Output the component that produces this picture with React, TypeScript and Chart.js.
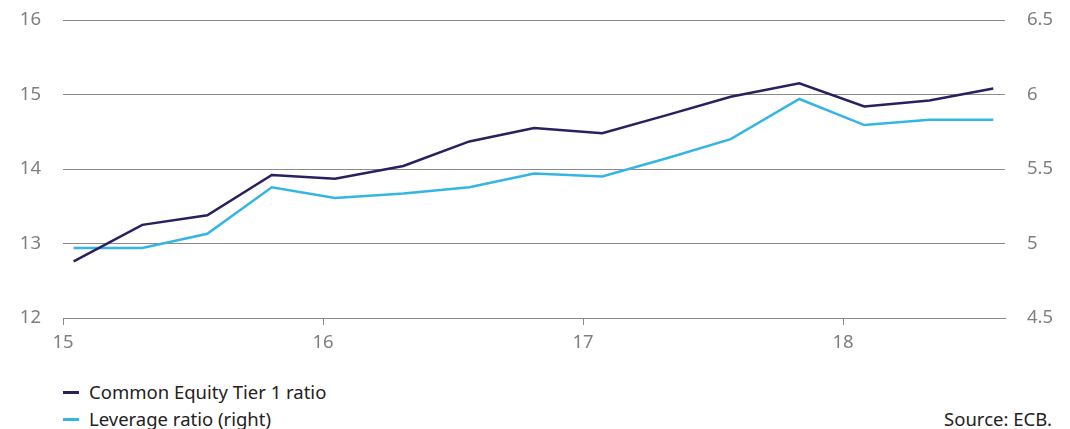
import React, { useEffect, useRef } from "react";
import { Chart, registerables } from "chart.js";

Chart.register(...registerables);

const xPositions = [15.041, 15.305, 15.555, 15.803, 16.046, 16.309, 16.563, 16.812, 17.074, 17.319, 17.568, 17.832, 18.082, 18.332, 18.578];
const cet1Values = [12.76, 13.25, 13.38, 13.92, 13.87, 14.04, 14.37, 14.55, 14.48, 14.72, 14.97, 15.15, 14.84, 14.92, 15.08];
const leverageValues = [4.97, 4.97, 5.065, 5.377, 5.306, 5.335, 5.377, 5.47, 5.45, 5.57, 5.70, 5.97, 5.795, 5.83, 5.83];
const xTickValues = [15, 16, 17, 18];
const seriesLabels = ["Common Equity Tier 1 ratio", "Leverage ratio (right)"];
const sourceText = "Source: ECB.";

const DARK = "#2a1f5f";
const LIGHT = "#35b5e5";
const GRID = "#8a8a8a";
const TICK = "#7f7f7f";
const FONT = "'Noto Sans', 'Open Sans', sans-serif";

export default function App() {
  const ref = useRef<HTMLCanvasElement | null>(null);

  useEffect(() => {
    if (!ref.current) return;
    const chart = new Chart(ref.current, {
      type: "line",
      data: {
        datasets: [
          {
            label: seriesLabels[0],
            data: xPositions.map((x, i) => ({ x, y: cet1Values[i] })),
            borderColor: DARK,
            backgroundColor: DARK,
            borderWidth: 2.5,
            pointRadius: 0,
            tension: 0,
            yAxisID: "y",
          },
          {
            label: seriesLabels[1],
            data: xPositions.map((x, i) => ({ x, y: leverageValues[i] })),
            borderColor: LIGHT,
            backgroundColor: LIGHT,
            borderWidth: 2.5,
            pointRadius: 0,
            tension: 0,
            yAxisID: "y1",
          },
        ],
      },
      options: {
        animation: false,
        responsive: false,
        maintainAspectRatio: false,
        layout: { padding: { top: 20, left: 0, right: 0, bottom: 0 } },
        plugins: { legend: { display: false }, tooltip: { enabled: false } },
        scales: {
          x: {
            type: "linear",
            min: 15,
            max: 15 + (1005 - 63) / 260,
            afterBuildTicks: (s: any) => {
              s.ticks = xTickValues.map((v) => ({ value: v }));
            },
            afterFit: (s: any) => {
              s.height = 42;
            },
            grid: {
              drawOnChartArea: false,
              drawTicks: true,
              tickLength: 7,
              color: GRID,
              lineWidth: 1,
            },
            border: { display: true, color: GRID, width: 1 },
            ticks: {
              color: TICK,
              font: { family: FONT, size: 18.5 },
              padding: 7,
              maxRotation: 0,
              callback: (v: any) => String(v),
            },
          },
          y: {
            position: "left",
            min: 12,
            max: 16,
            afterFit: (s: any) => {
              s.width = 63;
              s.paddingTop = 0;
              s.paddingBottom = 0;
            },
            grid: { color: GRID, lineWidth: 1, drawTicks: false },
            border: { display: false },
            ticks: {
              stepSize: 1,
              color: TICK,
              font: { family: FONT, size: 18.5 },
              padding: 22,
            },
          },
          y1: {
            position: "right",
            min: 4.5,
            max: 6.5,
            afterFit: (s: any) => {
              s.width = 65;
              s.paddingTop = 0;
              s.paddingBottom = 0;
            },
            grid: { drawOnChartArea: false, drawTicks: false },
            border: { display: false },
            ticks: {
              stepSize: 0.5,
              color: TICK,
              font: { family: FONT, size: 18.5 },
              padding: 22,
              callback: (v: any) => String(v),
            },
          },
        },
      },
    });
    return () => chart.destroy();
  }, []);

  const legendText: React.CSSProperties = {
    position: "absolute",
    fontFamily: FONT,
    fontSize: 18.5,
    color: "#222",
    lineHeight: "20px",
    whiteSpace: "nowrap",
  };

  return (
    <div style={{ position: "absolute", left: 0, top: 0, width: 1070, height: 429, background: "#fff", overflow: "hidden" }}>
      <canvas ref={ref} width={1070} height={360} style={{ position: "absolute", left: 0, top: 0, width: 1070, height: 360 }} />
      <div style={{ position: "absolute", left: 63, top: 391, width: 16, height: 2.5, background: DARK }} />
      <div style={{ ...legendText, left: 89, top: 382 }}>{seriesLabels[0]}</div>
      <div style={{ position: "absolute", left: 63, top: 418, width: 16, height: 2.5, background: LIGHT }} />
      <div style={{ ...legendText, left: 89, top: 409 }}>{seriesLabels[1]}</div>
      <div style={{ ...legendText, right: 18, top: 409 }}>{sourceText}</div>
    </div>
  );
}
